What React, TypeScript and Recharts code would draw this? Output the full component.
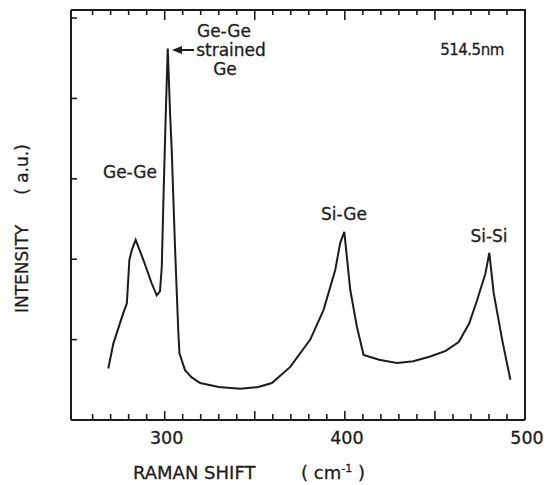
import { LineChart, Line, XAxis, YAxis, ReferenceLine } from "recharts";

// Raman shift (cm-1) and intensity (a.u.)
const shifts = [268.7, 271.5, 277, 279, 280.4, 281.7, 283.9, 288.2, 292.8, 295.6, 297.4, 298.4, 299.3, 300.6, 301.7, 303, 303.9, 305.8, 307.6, 308.2, 311.3, 315, 319.7, 330, 341.9, 352, 359.5, 369.7, 380.8, 388.2, 394.7, 397.4, 399.7, 403, 406.7, 410.4, 419, 428.9, 438, 447.4, 456, 463.2, 469, 473.4, 478, 480.2, 482.6, 487.3, 491.9];
const intensities = [0.64, 0.95, 1.33, 1.45, 1.99, 2.11, 2.24, 1.99, 1.7, 1.55, 1.6, 1.91, 2.74, 3.81, 4.62, 3.81, 3.36, 2.11, 1.08, 0.83, 0.62, 0.53, 0.46, 0.41, 0.39, 0.41, 0.46, 0.66, 1.0, 1.37, 1.87, 2.2, 2.34, 1.62, 1.16, 0.81, 0.75, 0.71, 0.73, 0.79, 0.86, 0.97, 1.2, 1.49, 1.82, 2.08, 1.58, 1.0, 0.5];
const xTicks = [260, 270, 280, 290, 300, 310, 320, 330, 340, 350, 360, 370, 380, 390, 400, 410, 420, 430, 440, 450, 460, 470, 480, 490, 500];
const xLabels = [300, 400, 500];
const yTicks = [1, 2, 3, 4, 5];
const X_MIN = 248;
const X_MAX = 500;
const Y_MAX = 5.1;

const data = shifts.map((s, i) => ({ shift: s, intensity: intensities[i] }));

const INK = "#1c1c1c";
const FONT = "'DejaVu Sans', sans-serif";
// plot box in page pixels (same as the chart margins below)
const PX_L = 71, PX_R = 525, PX_T = 10, PX_B = 420;
const px = (v: number) => PX_L + ((v - X_MIN) / (X_MAX - X_MIN)) * (PX_R - PX_L);

const BottomLabel = (props: any) => {
  const { x, payload } = props;
  const v = payload.value;
  if (!xLabels.includes(v)) return <g />;
  return (
    <text x={x + 2} y={444} textAnchor="middle" fontSize={17.5} fontFamily={FONT} fill={INK}
          stroke={INK} strokeWidth={0.3}>{v}</text>
  );
};

export default function App() {
  return (
    <div style={{ position: "absolute", left: 0, top: 0, width: 549, height: 485, background: "#fff" }}>
      <LineChart width={549} height={485} data={data} margin={{ top: PX_T, right: 549 - PX_R, bottom: 35, left: PX_L - 30 }}>
        <XAxis dataKey="shift" type="number" domain={[X_MIN, X_MAX]} ticks={xTicks} tick={<BottomLabel />}
               interval={0} tickLine={false} axisLine={false} height={30} allowDataOverflow />
        <YAxis type="number" domain={[0, Y_MAX]} ticks={yTicks} tick={false}
               tickLine={false} axisLine={false} width={30} allowDataOverflow />
        <ReferenceLine y={0} stroke={INK} strokeWidth={2} ifOverflow="visible" />
        <ReferenceLine x={X_MIN} stroke={INK} strokeWidth={2} ifOverflow="visible" />
        {yTicks.map((v) => (
          <ReferenceLine key={"l" + v} segment={[{ x: X_MIN, y: v }, { x: X_MIN + 3.3, y: v }]}
                         stroke={INK} strokeWidth={1.6} ifOverflow="visible" />
        ))}
        {xTicks.map((v) => (
          <ReferenceLine key={"b" + v} segment={[{ x: v, y: 0 }, { x: v, y: v % 50 === 0 ? 0.112 : 0.075 }]}
                         stroke={INK} strokeWidth={1.6} ifOverflow="visible" />
        ))}
        <Line dataKey="intensity" type="linear" stroke={INK} strokeWidth={2} dot={false} isAnimationActive={false} />
      </LineChart>
      <svg width={549} height={485} style={{ position: "absolute", left: 0, top: 0, pointerEvents: "none" }}>
        {/* top and right sides of the frame with the top ticks */}
        <polyline points={`${PX_L},${PX_T} ${PX_R},${PX_T} ${PX_R},${PX_B}`} fill="none" stroke={INK} strokeWidth={2} />
        {xTicks.filter((v) => v < X_MAX).map((v) => (
          <line key={v} x1={px(v)} x2={px(v)} y1={PX_T} y2={PX_T + (v % 50 === 0 ? 10 : 5)} stroke={INK} strokeWidth={1.6} />
        ))}
        <g fontFamily={FONT} fill={INK} stroke={INK} strokeWidth={0.3}>
          <text x={133} y={479} fontSize={18}>RAMAN SHIFT</text>
          <text x={301} y={479} fontSize={18}>
            ( cm<tspan dy={-7} fontSize={11}>-1</tspan><tspan dy={7}> )</tspan>
          </text>
          <text transform="translate(28 313) rotate(-90)" fontSize={17}>
            INTENSITY<tspan dx={30}>( a.u.)</tspan>
          </text>
          <text x={130} y={178} textAnchor="middle" fontSize={17}>Ge-Ge</text>
          <text x={224} y={37} textAnchor="middle" fontSize={17}>Ge-Ge</text>
          <text x={231} y={56} textAnchor="middle" fontSize={17}>strained</text>
          <text x={225} y={75} textAnchor="middle" fontSize={17}>Ge</text>
          <text x={472} y={55} textAnchor="middle" fontSize={15} letterSpacing={-0.5}>514.5nm</text>
          <text x={344} y={220} textAnchor="middle" fontSize={17}>Si-Ge</text>
          <text x={489} y={242} textAnchor="middle" fontSize={17}>Si-Si</text>
        </g>
        <line x1={194} y1={50} x2={180} y2={50} stroke={INK} strokeWidth={2} />
        <polygon points="172,50 182,46 182,54" fill={INK} />
      </svg>
    </div>
  );
}
